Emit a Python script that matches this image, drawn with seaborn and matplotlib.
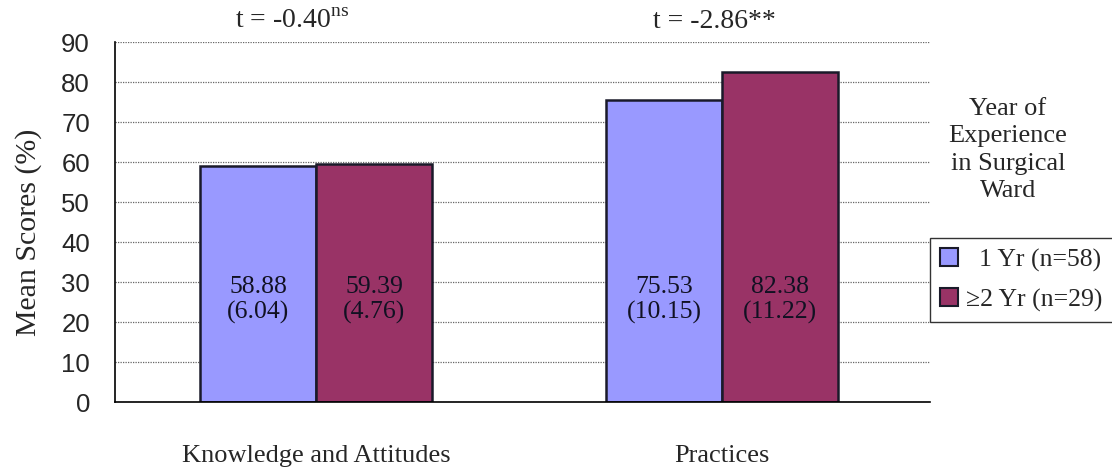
import pandas as pd
import numpy as np
import matplotlib
matplotlib.use("Agg")
import matplotlib.pyplot as plt
import seaborn as sns
from matplotlib.patches import Patch

domains = ["Knowledge and Attitudes", "Practices"]
groups = ["1 Yr (n=58)", "\u22652 Yr (n=29)"]
means_1yr = [58.88, 75.53]
means_2yr = [59.39, 82.38]
sds_1yr = [6.04, 10.15]
sds_2yr = [4.76, 11.22]
t_labels = ["t = -0.40$^{\\mathrm{ns}}$", "t = -2.86**"]
bar_colors = ["#9999FF", "#993366"]

df = pd.DataFrame({
    "domain": domains * 2,
    "group": [groups[0]] * 2 + [groups[1]] * 2,
    "score": means_1yr + means_2yr,
    "sd": sds_1yr + sds_2yr,
})

sns.set_style("white")
plt.rcParams["font.family"] = ["Liberation Serif", "DejaVu Serif"]
plt.rcParams["mathtext.fontset"] = "custom"
plt.rcParams["mathtext.rm"] = "Liberation Serif"

fig = plt.figure(figsize=(11.12, 4.71), dpi=100)
ax = fig.add_axes([115 / 1112, 1 - 402 / 471, 815 / 1112, 360 / 471])

sns.barplot(data=df, x="domain", y="score", hue="group", order=domains,
            hue_order=groups, palette=bar_colors, saturation=1, width=0.572,
            gap=0, edgecolor="#1a1a2a", linewidth=1.8, ax=ax, legend=False)

ax.set_ylim(0, 90)
ax.set_xlim(-0.495, 1.512)
ax.set_yticks(np.arange(0, 91, 10))
ax.set_yticklabels([str(v) for v in range(0, 91, 10)],
                   fontfamily="Liberation Sans", fontsize=18.5)
ax.yaxis.grid(True, linestyle=(0, (1, 1)), color="#666666", linewidth=0.9)
ax.set_axisbelow(True)
for s in ["top", "right"]:
    ax.spines[s].set_visible(False)
for s in ["left", "bottom"]:
    ax.spines[s].set_color("black")
    ax.spines[s].set_linewidth(1.2)
ax.tick_params(axis="y", length=0, pad=18)
ax.tick_params(axis="x", length=0, pad=31, labelsize=19)
ax.set_xlabel("")
ax.set_ylabel("Mean Scores (%)", fontsize=21.5)
ax.yaxis.set_label_coords(-73 / 815, 0.472)

# value labels inside bars
for container, sds in zip(ax.containers, [sds_1yr, sds_2yr]):
    for bar, sd in zip(container, sds):
        cx = bar.get_x() + bar.get_width() / 2
        ax.text(cx, 25.5, f"{bar.get_height():.2f}\n({sd:.2f})",
                ha="center", va="center", fontsize=18.5, linespacing=1.2,
                color="#111122")

t_x = [-0.02, 0.02]
for i, lab in enumerate(t_labels):
    ax.text(i + t_x[i] - 0.04, 95, lab, ha="center", va="center", fontsize=20,
            clip_on=False)

fig.text(1008 / 1112, 1 - 150 / 471, "Year of\nExperience\nin Surgical\nWard",
         ha="center", va="center", fontsize=19, linespacing=1.3)

handles = [Patch(facecolor=c, edgecolor="#1a1a2a", linewidth=1.5) for c in bar_colors]
leg = fig.legend(handles, ["  1 Yr (n=58)", "\u22652 Yr (n=29)"],
                 loc="upper left", bbox_to_anchor=(930 / 1112, 1 - 238 / 471),
                 fontsize=18.5, frameon=True, fancybox=False, handlelength=0.7,
                 handleheight=0.7, handletextpad=0.3, borderpad=0.4,
                 labelspacing=0.65, borderaxespad=0)
leg.get_frame().set_edgecolor("black")
leg.get_frame().set_linewidth(1.0)

fig.savefig("out.png", dpi=100)
